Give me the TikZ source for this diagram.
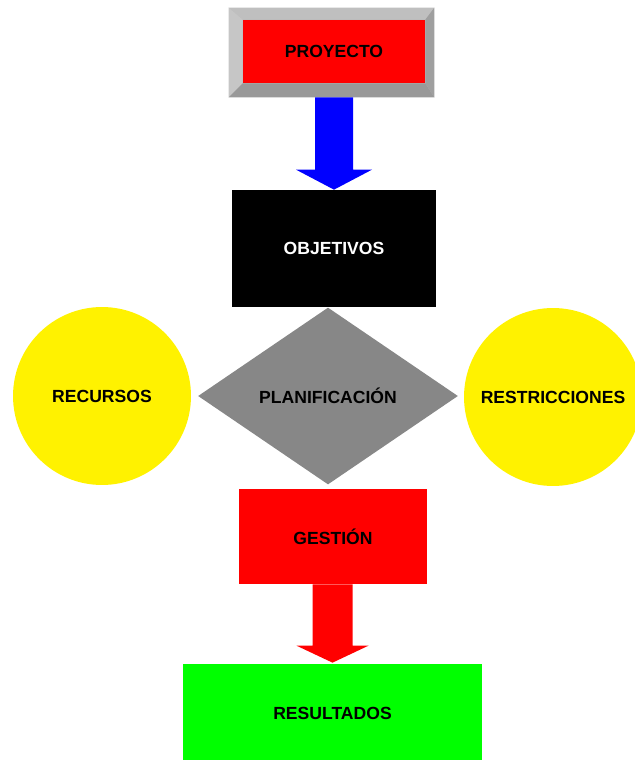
\documentclass[tikz,border=0pt]{standalone}
\usepackage{fontspec}
\setmainfont{Liberation Sans}
\usetikzlibrary{shapes.geometric,calc}

\begin{document}
\begin{tikzpicture}[x=0.02cm,y=-0.02cm,
    texto/.style={font=\bfseries\fontsize{10}{12}\selectfont, text=black},
    caja/.style={texto, rectangle, inner sep=0pt},
    circulo/.style={texto, circle, fill=yellow, minimum size=3.56cm, inner sep=0pt}]
\useasboundingbox (0,0) rectangle (635,760);

% proyecto con bisel
\node[caja, fill=gray!55, minimum width=4.1cm, minimum height=1.78cm] (borde) at (331.5,52.5) {};
\node[caja, fill=red, minimum width=3.64cm, minimum height=1.26cm] (proyecto) at (334,51.5) {PROYECTO};
\fill[gray!50] (borde.north west) -- (borde.north east) -- (proyecto.north east) -- (proyecto.north west) -- cycle;
\fill[gray!45] (borde.north west) -- (proyecto.north west) -- (proyecto.south west) -- (borde.south west) -- cycle;
\fill[gray!80] (borde.south west) -- (proyecto.south west) -- (proyecto.south east) -- (borde.south east) -- cycle;
\fill[gray!75] (borde.north east) -- (borde.south east) -- (proyecto.south east) -- (proyecto.north east) -- cycle;

\node[caja, fill=black, text=white, minimum width=4.08cm, minimum height=2.34cm] (objetivos) at (334,248.5) {OBJETIVOS};

\node[texto, diamond, fill=black!47, minimum width=5.2cm, minimum height=3.54cm, inner sep=0pt, aspect=1.47] (planificacion) at (328,396) {PLANIFICACIÓN};

\node[circulo] (recursos) at (102,396) {RECURSOS};
\node[circulo] (restricciones) at (553,397) {RESTRICCIONES};

\node[caja, fill=red, minimum width=3.76cm, minimum height=1.9cm] (gestion) at (333,536.5) {GESTIÓN};
\node[caja, fill=green, minimum width=5.98cm, minimum height=1.96cm] (resultados) at (332.5,713) {RESULTADOS};

% flechas
\fill[blue] ($(borde.south -| objetivos.north)+(-19,0)$) -- ($(borde.south -| objetivos.north)+(19,0)$)
  -- ($(objetivos.north)+(19,-20)$) -- ($(objetivos.north)+(38,-20)$) -- (objetivos.north)
  -- ($(objetivos.north)+(-38,-20)$) -- ($(objetivos.north)+(-19,-20)$) -- cycle;
\fill[red] ($(gestion.south -| resultados.north)+(-20,0)$) -- ($(gestion.south -| resultados.north)+(20,0)$)
  -- ($(resultados.north)+(20,-18)$) -- ($(resultados.north)+(36,-18)$) -- ($(resultados.north)+(0,-1)$)
  -- ($(resultados.north)+(-36,-18)$) -- ($(resultados.north)+(-20,-18)$) -- cycle;

\end{tikzpicture}
\end{document}
